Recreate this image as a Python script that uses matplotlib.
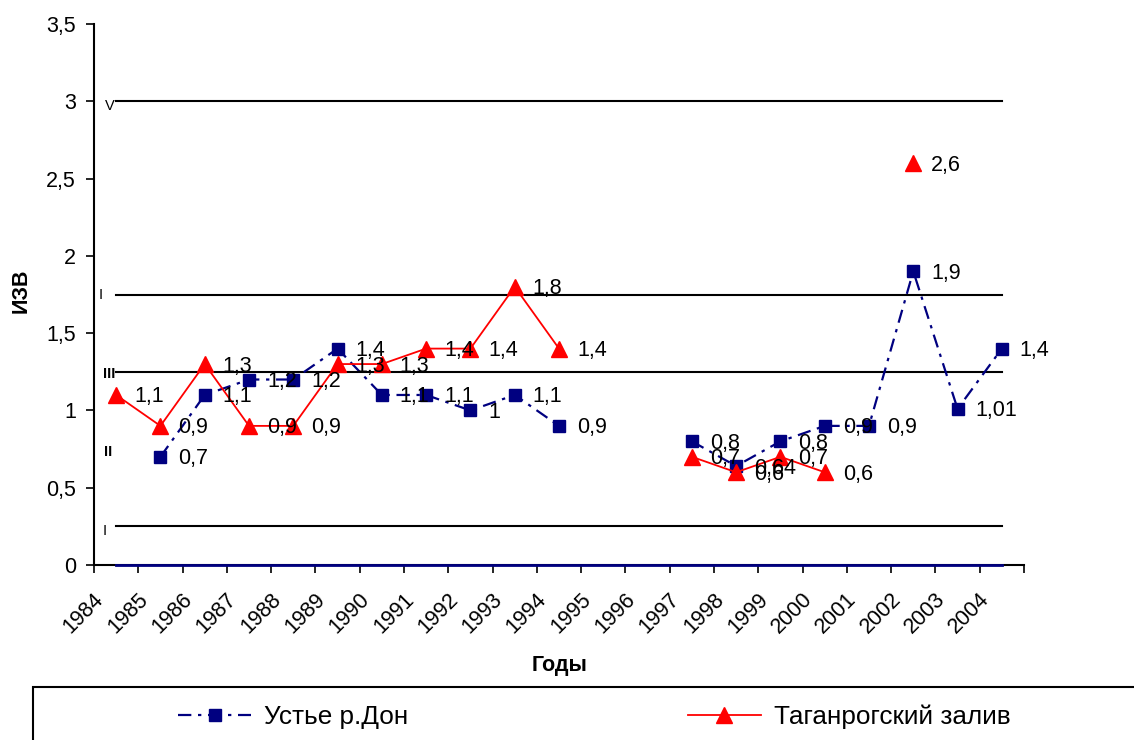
import numpy as np
import matplotlib.pyplot as plt
from matplotlib.patches import Rectangle
from matplotlib.transforms import ScaledTranslation

plt.rcParams['font.family'] = ['Liberation Sans', 'DejaVu Sans']

# данные
years = [str(y) for y in range(1984, 2005)]
nan = np.nan
don = [nan, 0.7, 1.1, 1.2, 1.2, 1.4, 1.1, 1.1, 1.0, 1.1, 0.9,
       nan, nan, 0.8, 0.64, 0.8, 0.9, 0.9, 1.9, 1.01, 1.4]
taganrog = [1.1, 0.9, 1.3, 0.9, 0.9, 1.3, 1.3, 1.4, 1.4, 1.8, 1.4,
            nan, nan, 0.7, 0.6, 0.7, 0.6, nan, 2.6, nan, nan]
class_levels = [3, 1.75, 1.25, 0.25]
class_names = ['V', 'I', 'III', 'II', 'I']
class_name_y = [2.97, 1.747, 1.236, 0.73, 0.22]

x = np.arange(len(years))
navy = '#000080'
red = '#ff0000'
fs = 15.5

fig = plt.figure(figsize=(11.34, 7.4), dpi=100)
ax = fig.add_axes([94 / 1134, 1 - 565 / 740, 930 / 1134, 541 / 740])

# линии классов
for lv in class_levels:
    ax.plot([x[0], x[-1]], [lv, lv], color='black', lw=1.5, zorder=2)
ax.plot(x, np.zeros(len(x)), color=navy, lw=2, zorder=3, clip_on=False)

name_x = [-0.14, -0.36, -0.16, -0.18, -0.25]
for nx, ny, nm in zip(name_x, class_name_y, class_names):
    ax.text(nx, ny, nm, fontsize=10.5, ha='center', va='center',
            fontweight='bold' if nm in ('II', 'III') else 'normal', zorder=1)

# ряды
ax.plot(x, don, color=navy, lw=1.6, ls=(0, (6, 3, 1.5, 3)), marker='s',
        markersize=8.5, markerfacecolor=navy, markeredgecolor=navy,
        zorder=4, label='Устье р.Дон')
ax.plot(x, taganrog, color=red, lw=1.3, marker='^', markersize=11,
        markerfacecolor=red, markeredgecolor=red, zorder=4,
        label='Таганрогский залив')

def lab(v):
    return f'{v:g}'.replace('.', ',')

for xi, v in zip(x, don):
    if not np.isnan(v):
        ax.annotate(lab(v), (xi, v), xytext=(18, -2), textcoords='offset pixels',
                    fontsize=fs, ha='left', va='center', zorder=5)
for xi, v in zip(x, taganrog):
    if not np.isnan(v):
        ax.annotate(lab(v), (xi, v), xytext=(18, -2), textcoords='offset pixels',
                    fontsize=fs, ha='left', va='center', zorder=5)

ax.set_xlim(-0.5, 20.5)
ax.set_ylim(0, 3.5)
yt = np.arange(0, 3.51, 0.5)
ax.set_yticks(yt)
ax.set_yticklabels([lab(v) for v in yt], fontsize=fs)
ax.set_xticks(np.arange(-0.5, 21, 1))
ax.set_xticklabels(years + [''], fontsize=fs, rotation=45, ha='right')
ax.tick_params(direction='out', length=6, width=1.2, color='black')
ax.tick_params(axis='x', pad=11)
ax.tick_params(axis='y', pad=7)
off = ScaledTranslation(14 / 100, 0, fig.dpi_scale_trans)
for t in ax.get_xticklabels():
    t.set_transform(t.get_transform() + off)

for s in ['top', 'right']:
    ax.spines[s].set_visible(False)
for s in ['left', 'bottom']:
    ax.spines[s].set_linewidth(1.5)

fig.text(21.5 / 1134, 1 - 291 / 740, 'ИЗВ', rotation=90, fontsize=fs,
         fontweight='bold', ha='center', va='center')
fig.text(560 / 1134, 1 - 666 / 740, 'Годы', fontsize=fs,
         fontweight='bold', ha='center', va='center')

# легенда
fig.patches.append(Rectangle((33 / 1134, -0.1), 1.2, 0.1 + 53 / 740,
                             transform=fig.transFigure, fill=False,
                             edgecolor='black', lw=1.5))
fig.legend(loc='center left', bbox_to_anchor=(178 / 1134, 1 - 717 / 740),
           ncol=2, frameon=False, fontsize=18.8, handlelength=2.8,
           handletextpad=0.5, columnspacing=10.7, borderpad=0, borderaxespad=0)

fig.savefig('out.png', dpi=100)
